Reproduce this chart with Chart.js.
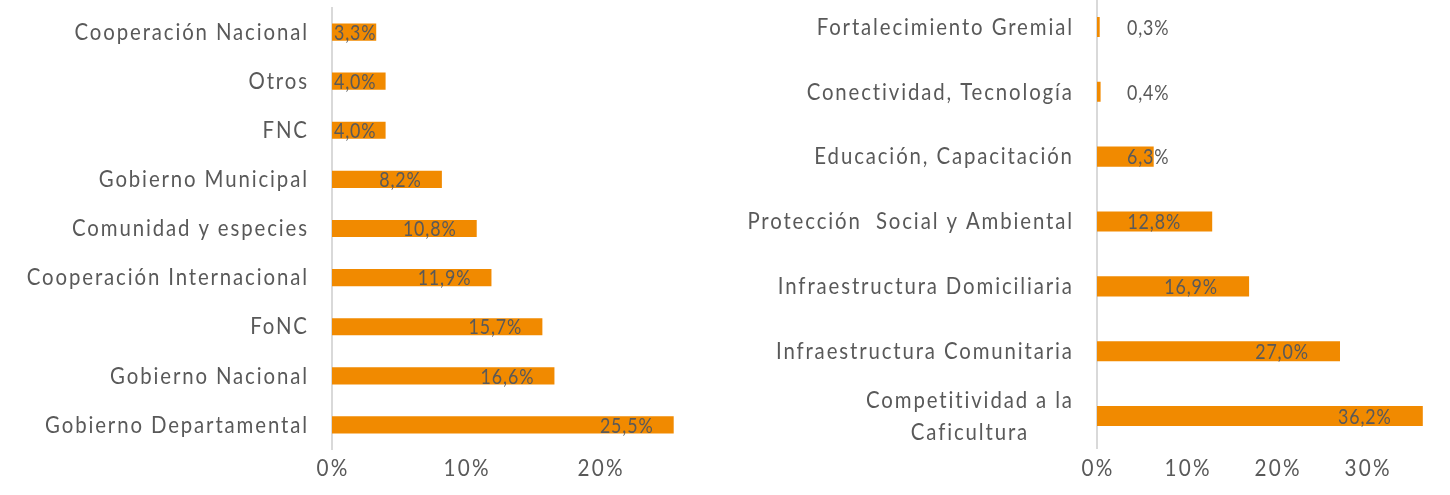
<!DOCTYPE html>
<html>
<head>
<meta charset="utf-8">
<script src="https://cdn.jsdelivr.net/npm/chart.js@4.4.0/dist/chart.umd.min.js"></script>
<style>
  html, body { margin: 0; padding: 0; background: #fff; }
  #wrap { position: relative; width: 1450px; height: 495px; overflow: hidden; }
  #leftBox { position: absolute; left: 0; top: 0; }
  #rightBox { position: absolute; left: 720px; top: -6px; }
</style>
</head>
<body>
<div id="wrap">
  <canvas id="leftBox" width="720" height="495"></canvas>
  <canvas id="rightBox" width="730" height="501"></canvas>
</div>
<script>
// datos - fuentes de financiación
const fuentes = ['Cooperación Nacional', 'Otros', 'FNC', 'Gobierno Municipal', 'Comunidad y especies',
  'Cooperación Internacional', 'FoNC', 'Gobierno Nacional', 'Gobierno Departamental'];
const fuentesPct = [3.3, 4.0, 4.0, 8.2, 10.8, 11.9, 15.7, 16.6, 25.5];

// datos - líneas de inversión
const lineas = ['Fortalecimiento Gremial', 'Conectividad, Tecnología', 'Educación, Capacitación',
  'Protección  Social y Ambiental', 'Infraestructura Domiciliaria', 'Infraestructura Comunitaria',
  ['Competitividad a la', 'Caficultura']];
const lineasPct = [0.3, 0.4, 6.3, 12.8, 16.9, 27.0, 36.2];

const tickVals = [0, 10, 20, 30];

const FONT = 'Lato';
const GRIS = '#595959';
const NARANJA = '#F18A00';

// texto angosto con tracking (el original parece fuente condensada de excel)
// st = {size, sx, sp}
function drawText(ctx, txt, x, y, align, st) {
  ctx.save();
  ctx.font = st.size + 'px ' + FONT;
  ctx.letterSpacing = st.sp + 'px';
  ctx.fillStyle = GRIS;
  ctx.textBaseline = 'middle';
  const w = ctx.measureText(txt).width - st.sp; // sin el espacio final
  let x0 = x;
  if (align === 'right') x0 = x - w * st.sx;
  else if (align === 'center') x0 = x - w * st.sx / 2;
  ctx.translate(x0, y);
  ctx.scale(st.sx, 1);
  ctx.textAlign = 'left';
  ctx.fillText(txt, 0, 0);
  ctx.restore();
  return w * st.sx;
}
function textW(ctx, txt, st) {
  ctx.save();
  ctx.font = st.size + 'px ' + FONT;
  ctx.letterSpacing = st.sp + 'px';
  const w = (ctx.measureText(txt).width - st.sp) * st.sx;
  ctx.restore();
  return w;
}

const CAT = { size: 24, sx: 0.85, sp: 2.2 };
const VAL = { size: 21, sx: 0.85, sp: 1 };
const TICK = { size: 23, sx: 0.9, sp: 2.5 };

// etiquetas de categoria (la de dos lineas va centrada)
const catLabels = {
  id: 'catLabels',
  afterDraw(chart) {
    const ctx = chart.ctx;
    const ys = chart.scales.y;
    const x = chart.chartArea.left - 25;
    chart.data.labels.forEach((lab, i) => {
      const y = ys.getPixelForValue(i);
      if (Array.isArray(lab)) {
        const w = Math.max(...lab.map(t => textW(ctx, t, CAT)));
        lab.forEach((t, k) => {
          drawText(ctx, t, x - w / 2, y + (k - (lab.length - 1) / 2) * 32, 'center', CAT);
        });
      } else {
        drawText(ctx, lab, x, y, 'right', CAT);
      }
    });
    // etiquetas del eje x
    const xs = chart.scales.x;
    tickVals.filter(v => v <= xs.max).forEach(v => {
      drawText(chart.ctx, v + '%', xs.getPixelForValue(v), chart.chartArea.bottom + chart.options.plugins.valLabels.tickOff, 'center', TICK);
    });
  }
};

// etiquetas de valor (tipo "inside end" de excel)
const valLabels = {
  id: 'valLabels',
  afterDatasetsDraw(chart, args, opts) {
    const ctx = chart.ctx;
    const meta = chart.getDatasetMeta(0);
    const data = chart.data.datasets[0].data;
    meta.data.forEach((bar, i) => {
      const txt = data[i].toFixed(1).replace('.', ',') + '%';
      const w = textW(ctx, txt, VAL);
      const xr = Math.max(bar.x - opts.inset, bar.base + opts.minLeft + w);
      drawText(ctx, txt, xr, bar.y + 1, 'right', VAL);
    });
  }
};

function makeChart(id, labels, values, cfg) {
  return new Chart(document.getElementById(id), {
    type: 'bar',
    data: {
      labels: labels,
      datasets: [{
        data: values,
        backgroundColor: NARANJA,
        borderWidth: 0,
        categoryPercentage: 1,
        barPercentage: cfg.barPct
      }]
    },
    options: {
      indexAxis: 'y',
      responsive: false,
      animation: false,
      layout: { padding: cfg.padding },
      plugins: {
        legend: { display: false },
        tooltip: { enabled: false },
        valLabels: { inset: cfg.inset, minLeft: cfg.minLeft, tickOff: cfg.tickOff }
      },
      scales: {
        y: {
          grid: { display: false, drawTicks: false },
          ticks: { display: false },
          border: { color: '#D9D9D9', width: 2 },
          afterFit: s => { s.width = 0; }
        },
        x: {
          min: 0,
          max: cfg.max,
          grid: { display: false, drawTicks: false },
          border: { display: false },
          ticks: { display: false },
          afterFit: s => { s.height = cfg.axisH; }
        }
      }
    },
    plugins: [catLabels, valLabels]
  });
}

makeChart('leftBox', fuentes, fuentesPct, {
  barPct: 0.35, max: 27.5, inset: 21, minLeft: 2, tickOff: 19,
  padding: { left: 332, right: 19.5, top: 7.5, bottom: 0 },
  axisH: 45.5
});

makeChart('rightBox', lineas, lineasPct, {
  barPct: 0.31, max: 36.5, inset: 32, minLeft: 30, tickOff: 20,
  padding: { left: 377, right: 24.5, top: 0.5, bottom: 0 },
  axisH: 46.5
});
</script>
</body>
</html>
